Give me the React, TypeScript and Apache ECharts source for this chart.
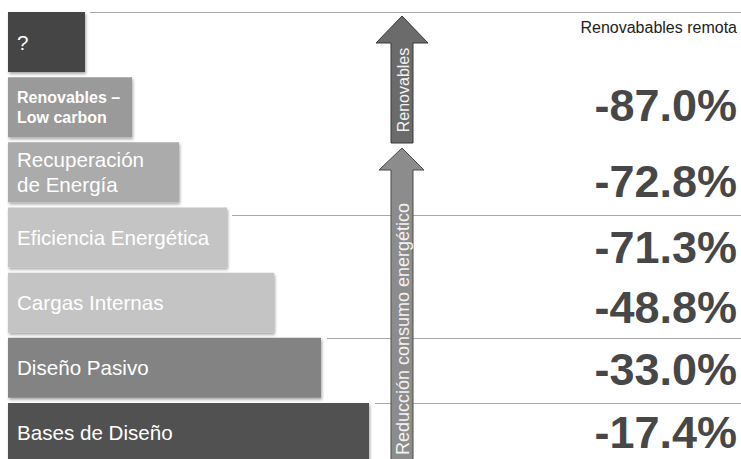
import React, { useEffect, useRef } from "react";
import * as echarts from "echarts";

// Steps (top to bottom)
const categories = [
  "?",
  "Renovables –\nLow carbon",
  "Recuperación\nde Energía",
  "Eficiencia Energética",
  "Cargas Internas",
  "Diseño Pasivo",
  "Bases de Diseño",
];
// Relative bar lengths
const barLengths = [77, 124, 171, 219, 266, 313, 361];
// Cumulative reduction (%) shown on the right
const reductions: (number | null)[] = [null, -87.0, -72.8, -71.3, -48.8, -33.0, -17.4];
const cornerLabel = "Renovabables remota";
const arrowLabels = ["Renovables", "Reducción consumo energético"];

// Styles (kept apart from the data)
const barColors = ["#454545", "#9a9a9a", "#ababab", "#c4c4c4", "#c4c4c4", "#838383", "#515151"];
const pctNudge = [0, -1.5, 9.5, 10, 5, 2, 0];
const FONT = "'Liberation Sans', Arial, Helvetica, sans-serif";

export default function App() {
  const ref = useRef<HTMLDivElement>(null);
  useEffect(() => {
    if (!ref.current) return;
    const chart = echarts.init(ref.current, undefined, { renderer: "svg" });

    const barData = barLengths.map((v, i) => {
      const label: any = {};
      if (i === 1) {
        label.fontWeight = "bold";
        label.fontSize = 16;
        label.lineHeight = 20;
      } else if (i === 2) {
        label.fontSize = 20.6;
        label.lineHeight = 25;
      } else {
        label.fontSize = 20.6;
      }
      return {
        value: v,
        itemStyle: { color: barColors[i] },
        label,
      };
    });

    const pctData = reductions
      .map((r, i) =>
        r === null
          ? null
          : { value: [729, categories[i]], label: { offset: [0, pctNudge[i]] } }
      )
      .filter((d) => d !== null);

    const sepLines = [
      { x1: 90, y: 12.5 },
      { x1: 232, y: 215.5 },
      { x1: 327, y: 338.5 },
      { x1: 375, y: 403.5 },
    ].map((l) => ({
      type: "line",
      z: 1,
      shape: { x1: l.x1, y1: l.y, x2: 741, y2: l.y },
      style: { stroke: "#a8a8a8", lineWidth: 1 },
    }));

    const option: any = {
      animation: false,
      textStyle: { fontFamily: FONT },
      grid: {
        left: 8,
        top: 9.5,
        width: 733,
        height: 456,
        containLabel: false,
        outerBoundsMode: "none",
      },
      xAxis: { type: "value", min: 0, max: 733, show: false },
      yAxis: {
        type: "category",
        data: categories,
        inverse: true,
        show: false,
      },
      series: [
        {
          type: "bar",
          data: barData,
          barWidth: 60,
          itemStyle: {
            shadowColor: "rgba(0,0,0,0.35)",
            shadowBlur: 3,
            shadowOffsetX: 1,
            shadowOffsetY: 2,
          },
          label: {
            show: true,
            position: "insideLeft",
            distance: 9,
            color: "#ffffff",
            fontFamily: FONT,
            formatter: (p: any) => categories[p.dataIndex],
          },
        },
        {
          type: "scatter",
          data: pctData,
          symbolSize: 0,
          itemStyle: { opacity: 1 },
          label: {
            show: true,
            position: "left",
            distance: 0,
            color: "#474747",
            fontFamily: FONT,
            fontWeight: "bold",
            fontSize: 45,
            formatter: (p: any) => {
              const r = reductions[categories.indexOf(p.value[1])] as number;
              return `${r.toFixed(1)}%`;
            },
          },
        },
      ],
      graphic: [
        ...sepLines,
        {
          type: "polygon",
          z: 5,
          shape: {
            points: [
              [402, 16],
              [428, 43],
              [413, 43],
              [413, 143],
              [391, 143],
              [391, 43],
              [376, 43],
            ],
          },
          style: { fill: "#6b6b6b", stroke: "#383838", lineWidth: 1 },
        },
        {
          type: "polygon",
          z: 5,
          shape: {
            points: [
              [402, 148],
              [424, 170],
              [413, 170],
              [413, 465],
              [391, 465],
              [391, 170],
              [379, 170],
            ],
          },
          style: { fill: "#8c8c8c", stroke: "#4a4a4a", lineWidth: 1 },
        },
        {
          type: "text",
          z: 6,
          x: 403,
          y: 90,
          rotation: Math.PI / 2,
          style: {
            text: arrowLabels[0],
            fill: "#f2f2f2",
            font: `16px ${FONT}`,
            align: "center",
            verticalAlign: "middle",
          },
        },
        {
          type: "text",
          z: 6,
          x: 403,
          y: 329,
          rotation: Math.PI / 2,
          style: {
            text: arrowLabels[1],
            fill: "#f2f2f2",
            font: `18px ${FONT}`,
            align: "center",
            verticalAlign: "middle",
          },
        },
        {
          type: "text",
          z: 6,
          x: 737,
          y: 27,
          style: {
            text: cornerLabel,
            fill: "#222222",
            font: `16px ${FONT}`,
            align: "right",
            verticalAlign: "middle",
          },
        },
      ],
    };

    chart.setOption(option);
    return () => chart.dispose();
  }, []);

  return (
    <div
      ref={ref}
      style={{ position: "fixed", left: 0, top: 0, width: 741, height: 459, background: "#fff" }}
    />
  );
}
